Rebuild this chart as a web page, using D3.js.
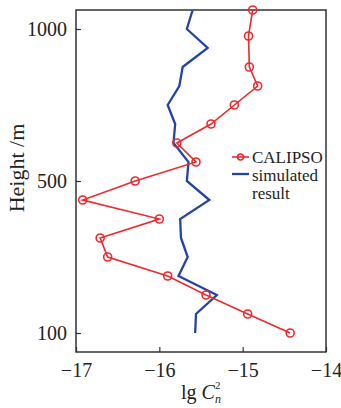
<!DOCTYPE html>
<html>
<head>
<meta charset="utf-8">
<script src="https://cdn.jsdelivr.net/npm/d3@7"></script>
<style>
  body { margin: 0; background: #fff; }
  svg { display: block; }
  svg text { font-family: "Liberation Serif", serif; }
</style>
</head>
<body>
<div id="chart"></div>
<script>
// heights (m) and lg Cn^2
const calipsoHeights = [100, 150, 200, 250, 300, 350, 400, 450, 500, 562.5, 625, 687.5, 750, 812.5, 875, 977, 1062.5];
const calipsoValues = [-14.43, -14.94, -15.44, -15.90, -16.62, -16.71, -16.00, -16.92, -16.29, -15.56, -15.79, -15.38, -15.10, -14.82, -14.92, -14.93, -14.88];

const simHeights = [100, 150, 200, 250, 300, 350, 400, 450, 500, 562.5, 625, 687.5, 750, 812.5, 875, 937.5, 1000, 1062.5];
const simValues = [-15.57, -15.56, -15.31, -15.77, -15.66, -15.74, -15.75, -15.40, -15.67, -15.65, -15.83, -15.81, -15.90, -15.76, -15.72, -15.42, -15.67, -15.60];

const xTicks = [-17, -16, -15, -14];
const yTicks = [100, 500, 1000];
const legendLabels = ['CALIPSO', ['simulated', 'result']];

const width = 341, height = 408;
const margin = { top: 10, right: 15, bottom: 56, left: 76 };
const w = width - margin.left - margin.right;
const h = height - margin.top - margin.bottom;

const red = '#ec2a2e';
const blue = '#2443a6';
const font = '"Liberation Serif", serif';

const svg = d3.select('#chart')
    .append('svg')
    .attr('width', width)
    .attr('height', height);

const g = svg.append('g')
    .attr('transform', `translate(${margin.left},${margin.top})`);

const x = d3.scaleLinear().domain([-17, -14]).range([0, w]);
// the height axis is not uniform in the original: 100..500 and 500..1000 have equal length
const y = d3.scaleLinear().domain([100, 500, 1000]).range([h - 19, h - 171, 19]);

const minus = d => (d < 0 ? '\u2212' + Math.abs(d) : d);

// x axis ticks (inward)
const xAxis = g.append('g').attr('transform', `translate(0,${h})`)
    .call(d3.axisBottom(x).tickValues(xTicks).tickSize(-5).tickFormat(minus));
xAxis.select('.domain').remove();
xAxis.selectAll('line').attr('stroke', '#333').attr('stroke-width', 1.2);
xAxis.selectAll('text')
    .attr('font-family', font)
    .attr('font-size', 20)
    .attr('fill', '#222')
    .attr('y', 11)
    .attr('dy', '0.71em');

const yAxis = g.append('g')
    .call(d3.axisLeft(y).tickValues(yTicks).tickSize(-5).tickPadding(9).tickFormat(d3.format('d')));
yAxis.select('.domain').remove();
yAxis.selectAll('line').attr('stroke', '#333').attr('stroke-width', 1.2);
yAxis.selectAll('text')
    .attr('font-family', font)
    .attr('font-size', 20)
    .attr('fill', '#222');

// frame
g.append('rect')
    .attr('width', w).attr('height', h)
    .attr('fill', 'none')
    .attr('stroke', '#333')
    .attr('stroke-width', 1.5);

// simulated result
const line = d3.line().x(d => x(d[0])).y(d => y(d[1]));

g.append('path')
    .datum(d3.zip(simValues, simHeights))
    .attr('fill', 'none')
    .attr('stroke', blue)
    .attr('stroke-width', 2.3)
    .attr('d', line);

// CALIPSO
const calipso = d3.zip(calipsoValues, calipsoHeights);
g.append('path')
    .datum(calipso)
    .attr('fill', 'none')
    .attr('stroke', red)
    .attr('stroke-width', 1.6)
    .attr('d', line);

g.selectAll('circle.pt')
    .data(calipso)
    .enter()
    .append('circle')
    .attr('class', 'pt')
    .attr('cx', d => x(d[0]))
    .attr('cy', d => y(d[1]))
    .attr('r', 4)
    .attr('fill', 'none')
    .attr('stroke', red)
    .attr('stroke-width', 1.6);

// legend
const lg = g.append('g').attr('transform', `translate(${w - 94},147)`);
lg.append('line').attr('x1', 0).attr('x2', 17).attr('y1', 0).attr('y2', 0)
    .attr('stroke', red).attr('stroke-width', 1.6);
lg.append('circle').attr('cx', 8.5).attr('cy', 0).attr('r', 3)
    .attr('fill', 'none').attr('stroke', red).attr('stroke-width', 1.6);
lg.append('text').attr('x', 20).attr('y', 5.5)
    .attr('font-family', font)
    .attr('font-size', 17).attr('fill', '#222')
    .text(legendLabels[0]);
lg.append('line').attr('x1', 0).attr('x2', 17).attr('y1', 17).attr('y2', 17)
    .attr('stroke', blue).attr('stroke-width', 2.3);
lg.append('text').attr('x', 20).attr('y', 23.5)
    .attr('font-family', font)
    .attr('font-size', 17).attr('fill', '#222')
    .selectAll('tspan')
    .data(legendLabels[1])
    .enter()
    .append('tspan')
    .attr('x', 20)
    .attr('dy', (d, i) => (i ? 18 : 0))
    .text(d => d);

// axis titles
svg.append('text')
    .attr('transform', `translate(24,${margin.top + 158}) rotate(-90)`)
    .attr('text-anchor', 'middle')
    .attr('font-family', font)
    .attr('font-size', 22)
    .attr('fill', '#222')
    .text('Height /m');

const xt = svg.append('text')
    .attr('x', margin.left + w / 2)
    .attr('y', 399)
    .attr('text-anchor', 'middle')
    .attr('font-family', font)
    .attr('font-size', 20)
    .attr('fill', '#222');
xt.append('tspan').text('lg ');
xt.append('tspan').attr('font-style', 'italic').text('C');
xt.append('tspan').attr('font-size', 11).attr('dy', -10).text('2');
xt.append('tspan').attr('font-size', 12).attr('font-style', 'italic').attr('dx', -5.5).attr('dy', 14).text('n');
</script>
</body>
</html>
